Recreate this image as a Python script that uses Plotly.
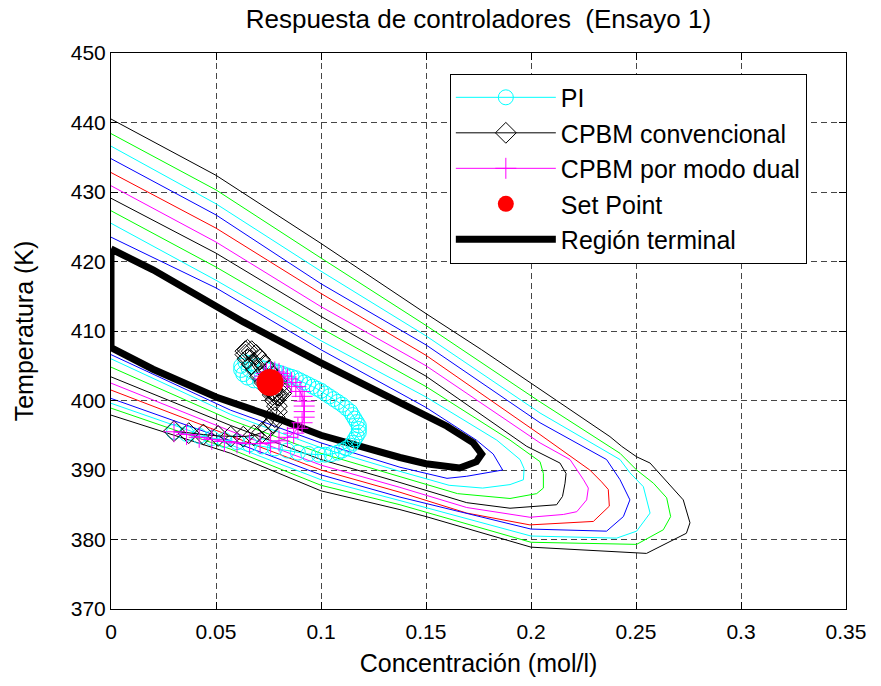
import plotly.graph_objects as go

# ---- axis ticks ----
x_ticks = [0, 0.05, 0.1, 0.15, 0.2, 0.25, 0.3, 0.35]
x_tick_text = ["0", "0.05", "0.1", "0.15", "0.2", "0.25", "0.3", "0.35"]
y_ticks = [370, 380, 390, 400, 410, 420, 430, 440, 450]

# ---- level curves of the cost function (inner -> outer) ----
lvl0_c = [0, 0.05, 0.1, 0.15, 0.174, 0.182, 0.1865, 0.1773, 0.1694, 0.16, 0.1376, 0.1, 0.057, 0]
lvl0_T = [423.5, 416.2, 407.3, 399.0, 394.3, 392.3, 390.0, 389.5, 389.1, 388.8, 390.4, 393.9, 398.6, 406.6]

lvl1_c = [0, 0.05, 0.1, 0.15, 0.1837, 0.1948, 0.1967, 0.1964, 0.19, 0.177, 0.161, 0.1376, 0.1, 0.057, 0]
lvl1_T = [425.5, 417.3, 408.6, 400.5, 394.3, 391.5, 390.2, 388.6, 387.9, 387.4, 387.8, 389.8, 393.2, 398.0, 406.0]

lvl2_c = [0, 0.05, 0.1, 0.15, 0.19, 0.2043, 0.2059, 0.2059, 0.2027, 0.19, 0.165, 0.1376, 0.1, 0.057, 0]
lvl2_T = [427.3, 419.2, 410.4, 402.0, 394.3, 391.2, 389.5, 387.4, 386.6, 385.9, 386.6, 389.0, 392.4, 397.2, 404.8]

lvl3_c = [0, 0.05, 0.1, 0.15, 0.198, 0.2138, 0.2167, 0.2162, 0.215, 0.2122, 0.19, 0.1694, 0.1376, 0.1, 0.057, 0]
lvl3_T = [429.1, 421.2, 412.1, 403.5, 393.4, 391.0, 389.5, 388.1, 386.2, 385.0, 384.5, 385.3, 388.2, 391.5, 396.4, 403.4]

lvl4_c = [0, 0.05, 0.1, 0.15, 0.2043, 0.2186, 0.225, 0.2273, 0.2265, 0.2218, 0.2154, 0.1995, 0.1694, 0.1376, 0.1, 0.057, 0]
lvl4_T = [430.9, 422.8, 413.5, 405.0, 393.9, 391.5, 388.6, 387.4, 385.7, 384.0, 383.6, 383.2, 384.6, 387.5, 390.7, 395.6, 402.5]

lvl5_c = [0, 0.05, 0.1, 0.15, 0.2043, 0.228, 0.2336, 0.2368, 0.2373, 0.2297, 0.1995, 0.1694, 0.1376, 0.1, 0.057, 0]
lvl5_T = [432.8, 424.8, 415.4, 406.5, 395.1, 390.0, 388.3, 387.2, 384.8, 382.6, 382.1, 383.8, 386.8, 390.0, 394.9, 401.5]

lvl6_c = [0, 0.05, 0.1, 0.15, 0.2043, 0.236, 0.2424, 0.2471, 0.244, 0.236, 0.2, 0.1376, 0.1, 0.057, 0]
lvl6_T = [434.8, 426.7, 416.8, 408.0, 396.8, 391.5, 388.6, 385.7, 383.3, 381.2, 381.5, 386.1, 389.3, 394.2, 400.3]

lvl7_c = [0, 0.05, 0.1, 0.15, 0.2043, 0.2424, 0.2471, 0.2535, 0.2567, 0.2503, 0.2408, 0.2, 0.1376, 0.1, 0.057, 0]
lvl7_T = [436.6, 428.3, 418.6, 409.3, 398.2, 391.5, 389.6, 387.6, 383.8, 381.2, 380.2, 380.5, 385.6, 388.6, 393.6, 399.6]

lvl8_c = [0, 0.05, 0.1, 0.15, 0.2043, 0.2424, 0.2503, 0.2583, 0.2646, 0.2665, 0.263, 0.2503, 0.2, 0.1376, 0.1, 0.057, 0]
lvl8_T = [438.4, 430.3, 420.5, 410.8, 399.8, 392.4, 390.0, 388.1, 386.0, 383.3, 381.4, 379.3, 379.6, 385.0, 387.8, 393.0, 398.9]

lvl9_c = [0, 0.05, 0.1, 0.15, 0.1765, 0.2043, 0.2376, 0.2432, 0.2503, 0.2567, 0.2725, 0.2757, 0.274, 0.255, 0.2, 0.15, 0.1376, 0.1, 0.057, 0]
lvl9_T = [440.5, 432.4, 422.6, 412.5, 407.3, 401.6, 394.8, 393.4, 391.9, 391.0, 385.7, 382.4, 380.9, 378.0, 378.9, 383.3, 384.3, 387.0, 392.4, 397.9]

level_colors = ["#0000FF", "#00FFFF", "#00FF00", "#000000", "#FF00FF",
                "#FF0000", "#0000FF", "#00FFFF", "#00FF00", "#000000"]

# ---- terminal region boundary ----
term_c = [0, 0.02, 0.063, 0.1, 0.1376, 0.16, 0.1725, 0.1765, 0.174, 0.166, 0.15, 0.1376, 0.1, 0.075, 0.05, 0.02, 0, 0]
term_T = [421.8, 418.8, 411.3, 405.4, 399.7, 396.3, 393.9, 392.3, 391.2, 390.3, 390.9, 391.8, 395.0, 397.9, 400.5, 404.5, 407.6, 421.8]

# ---- controller trajectories ----
pi_c = [0.030, 0.036, 0.042, 0.048, 0.054, 0.060, 0.066, 0.072, 0.078, 0.084,
        0.089, 0.094, 0.099, 0.102, 0.105, 0.108, 0.110, 0.112, 0.114, 0.115,
        0.116, 0.117, 0.118, 0.118, 0.118, 0.117, 0.116, 0.115, 0.114, 0.112,
        0.110, 0.108, 0.106, 0.104, 0.102, 0.100, 0.098, 0.096, 0.094, 0.092,
        0.090, 0.088, 0.086, 0.084, 0.082, 0.080, 0.078, 0.076, 0.073, 0.070,
        0.067, 0.064, 0.062, 0.062, 0.063, 0.065, 0.068, 0.071, 0.074, 0.0757]
pi_T = [395.5, 395.2, 394.9, 394.6, 394.3, 394.0, 393.7, 393.4, 393.1, 392.8,
        392.5, 392.3, 392.2, 392.2, 392.3, 392.5, 392.8, 393.1, 393.5, 393.9,
        394.4, 394.9, 395.4, 395.9, 396.4, 396.9, 397.4, 397.9, 398.4, 398.9,
        399.4, 399.8, 400.2, 400.6, 401.0, 401.4, 401.7, 402.0, 402.3, 402.6,
        402.9, 403.2, 403.4, 403.6, 403.8, 404.0, 404.2, 404.4, 404.6, 405.0,
        405.4, 405.5, 405.0, 404.4, 403.8, 403.3, 402.9, 402.7, 402.6, 402.6]

conv_c = [0.030, 0.037, 0.044, 0.051, 0.057, 0.063, 0.068, 0.072, 0.075, 0.077,
          0.078, 0.079, 0.079, 0.078, 0.077, 0.075, 0.073, 0.071, 0.069, 0.067,
          0.065, 0.064, 0.064, 0.065, 0.067, 0.069, 0.071, 0.073, 0.075, 0.077,
          0.079, 0.080, 0.081, 0.081, 0.080, 0.079, 0.078, 0.077, 0.076, 0.0757]
conv_T = [395.6, 395.3, 395.1, 394.9, 394.8, 394.8, 395.0, 395.4, 396.0, 396.8,
          397.6, 398.4, 399.2, 400.0, 400.8, 401.7, 402.6, 403.5, 404.4, 405.2,
          406.0, 406.6, 407.1, 407.3, 407.1, 406.6, 405.9, 405.1, 404.3, 403.5,
          402.8, 402.1, 401.5, 401.0, 400.7, 400.7, 401.0, 401.5, 402.1, 402.6]

dual_c = [0.030, 0.036, 0.042, 0.048, 0.054, 0.060, 0.066, 0.071, 0.076, 0.080,
          0.084, 0.087, 0.089, 0.091, 0.092, 0.092, 0.092, 0.092, 0.091, 0.090,
          0.088, 0.086, 0.084, 0.082, 0.080, 0.078, 0.076, 0.074, 0.073, 0.073,
          0.074, 0.075, 0.0757]
dual_T = [395.5, 395.1, 394.7, 394.4, 394.1, 393.9, 393.8, 393.8, 393.9, 394.2,
          394.7, 395.3, 396.0, 396.8, 397.6, 398.4, 399.2, 399.9, 400.6, 401.3,
          402.0, 402.6, 403.1, 403.5, 403.9, 404.1, 404.1, 403.9, 403.5, 403.1,
          402.8, 402.7, 402.6]

setpoint_c = [0.0757]
setpoint_T = [402.6]

FONT = "Liberation Sans, Arial, Helvetica, sans-serif"

fig = go.Figure()

levels = [(lvl0_c, lvl0_T), (lvl1_c, lvl1_T), (lvl2_c, lvl2_T), (lvl3_c, lvl3_T),
          (lvl4_c, lvl4_T), (lvl5_c, lvl5_T), (lvl6_c, lvl6_T), (lvl7_c, lvl7_T),
          (lvl8_c, lvl8_T), (lvl9_c, lvl9_T)]
for (cx, ty), col in zip(levels, level_colors):
    fig.add_trace(go.Scatter(x=cx, y=ty, mode="lines", showlegend=False,
                             hoverinfo="skip", line=dict(color=col, width=1)))

fig.add_trace(go.Scatter(x=term_c, y=term_T, mode="lines", name="Región terminal",
                         legendrank=5, line=dict(color="black", width=7)))

fig.add_trace(go.Scatter(x=pi_c, y=pi_T, mode="lines+markers", name="PI", legendrank=1,
                         line=dict(color="#00FFFF", width=1),
                         marker=dict(symbol="circle-open", size=15, color="#00FFFF",
                                     line=dict(width=1, color="#00FFFF"))))

fig.add_trace(go.Scatter(x=conv_c, y=conv_T, mode="lines+markers", name="CPBM convencional",
                         legendrank=2, line=dict(color="black", width=1),
                         marker=dict(symbol="diamond-open", size=16, color="black",
                                     line=dict(width=1, color="black"))))

fig.add_trace(go.Scatter(x=dual_c, y=dual_T, mode="lines+markers", name="CPBM por modo dual",
                         legendrank=3, line=dict(color="#FF00FF", width=1),
                         marker=dict(symbol="cross-thin", size=15, color="#FF00FF",
                                     line=dict(width=1, color="#FF00FF"))))

fig.add_trace(go.Scatter(x=setpoint_c, y=setpoint_T, mode="markers", name="Set Point",
                         legendrank=4,
                         marker=dict(symbol="circle", size=27, color="#FF0000",
                                     line=dict(width=0))))

axis_common = dict(showline=True, linecolor="black", linewidth=1, mirror="allticks",
                   ticks="inside", ticklen=7, tickcolor="black", showgrid=True,
                   gridcolor="rgb(70,70,70)", gridwidth=1, griddash="6px,4px",
                   zeroline=False, tickfont=dict(family=FONT, size=21, color="black"))

fig.update_layout(
    width=881, height=686,
    margin=dict(l=111, r=35, t=53, b=77),
    paper_bgcolor="white", plot_bgcolor="white",
    title=dict(text="Respuesta de controladores \u00a0(Ensayo 1)", x=0.543, xanchor="center",
               y=0.972, yanchor="middle",
               font=dict(family=FONT, size=26, color="black")),
    xaxis=dict(range=[0, 0.35], tickvals=x_ticks, ticktext=x_tick_text,
               ticklabelstandoff=4,
               title=dict(text="Concentración (mol/l)", standoff=12,
                          font=dict(family=FONT, size=25, color="black")),
               **axis_common),
    yaxis=dict(range=[370, 450], tickvals=y_ticks,
               title=dict(text="Temperatura (K)", standoff=30,
                          font=dict(family=FONT, size=25, color="black")),
               **axis_common),
    legend=dict(x=0.461, y=0.963, xanchor="left", yanchor="top",
                bgcolor="white", bordercolor="black", borderwidth=1,
                font=dict(family=FONT, size=25, color="black"),
                itemwidth=100, traceorder="normal"),
    showlegend=True,
)

fig.write_html("out.html")
